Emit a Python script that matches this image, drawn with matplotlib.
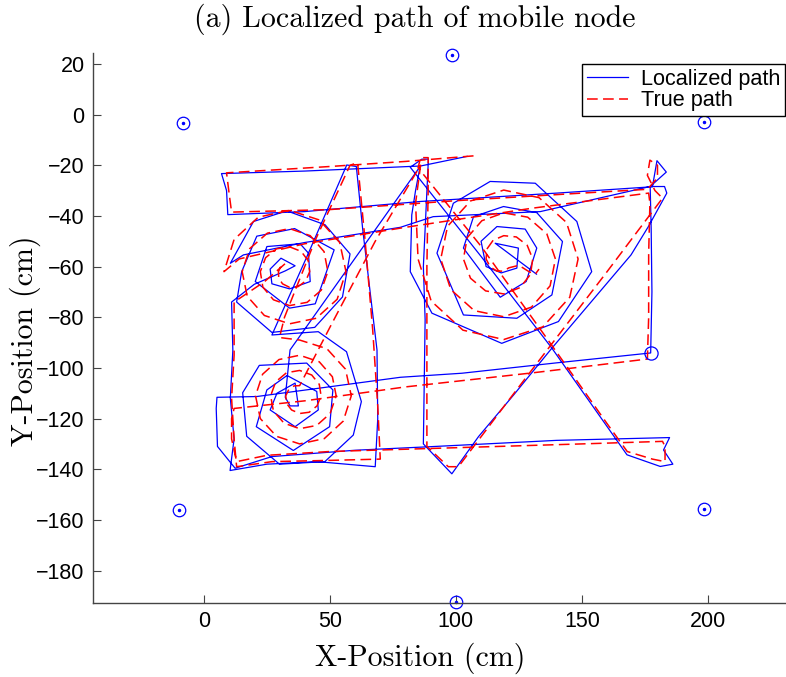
import matplotlib.pyplot as plt

plt.rcParams['font.family'] = ['Liberation Sans', 'DejaVu Sans']
plt.rcParams['axes.unicode_minus'] = True

# ---------------------------------------------------------------------------
# Anchor nodes and start position (cm)
# ---------------------------------------------------------------------------
ANCHOR_X = [-8.3, 98.5, 198.5, -9.7, 198.5, 100.1]
ANCHOR_Y = [-3.4, 23.6, -2.9, -156.2, -155.8, -192.6]
START_X, START_Y = 177.5, -94.1

# ---------------------------------------------------------------------------
# True path, leg by leg (cm)
# ---------------------------------------------------------------------------
true_top = [(107, -16.3), (80, -18.5), (50, -20.5), (25, -22), (9, -23), (10, -31), (11, -38.5)]
true_east = [(50, -37.5), (100, -34), (150, -31), (176, -29.5), (180, -25), (180, -20), (177, -18),
             (176, -24), (179, -30), (182, -33)]
true_diag_sw = [(160, -62), (140, -88), (120, -114), (101, -139), (97, -139), (88.5, -131)]
true_mid_north = [(88.5, -100), (88.5, -60), (89, -30), (89, -17), (86, -17), (85, -21)]
true_diag_se = [(110, -52), (138, -91), (160, -122), (168, -133), (178, -136), (183, -137),
                (183, -131), (182, -129)]
true_bottom_w = [(150, -130), (100, -131.5), (50, -133), (25, -134.5), (13, -137), (11, -128),
                 (11, -120), (12, -116)]
true_mid_e = [(40, -113), (80, -107.5), (130, -102), (176, -96.5)]
true_east_n = [(176.5, -80), (176.5, -55), (177, -35), (176.5, -31)]
true_slant_w = [(130, -37), (80, -44.5), (40, -51), (14, -57)]
true_spiral_a = [(8, -62), (12, -49.3), (21.6, -40.5), (34, -37.8), (45.8, -41.6), (53.9, -50.5),
                 (56.4, -62), (52.9, -72.9), (44.6, -80.4), (34, -82.6), (24, -79.3), (17.2, -71.7),
                 (15.2, -62), (18.2, -52.9), (25.2, -46.8), (34, -45), (42.2, -47.8), (47.7, -54.1),
                 (49.2, -62), (46.6, -69.3), (41, -74.1), (34, -75.4), (27.6, -73.1), (23.4, -68.1),
                 (22.4, -62), (24.5, -56.5), (28.8, -53), (34, -52.2), (38.6, -54), (41.4, -57.7),
                 (42, -62), (40.4, -65.7), (37.4, -67.9), (34, -68.2), (31.2, -66.8), (29.7, -64.5),
                 (29.6, -62), (30.5, -60), (32.2, -58.9)]
true_exit_a = [(24, -66), (12, -74), (12, -95), (11, -112), (12, -128), (13, -139)]
true_col = [(27, -137), (50, -136.5), (70, -136), (69, -115), (67, -85), (64, -50), (61, -19), (58, -20)]
true_cross = [(44, -50), (32, -80), (30, -88)]
true_spiral_c = [(38, -89), (48.8, -92.4), (56.2, -100.5), (58.5, -111), (55.3, -121), (47.8, -127.9),
                 (38, -130), (28.8, -127), (22.4, -120), (20.5, -111), (23.3, -102.5), (29.8, -96.7),
                 (38, -95), (45.8, -97.6), (51, -103.5), (52.5, -111), (50.1, -118), (44.8, -122.7),
                 (38, -124), (31.8, -121.8), (27.6, -117), (26.5, -111), (28.5, -105.5), (32.8, -101.9),
                 (38, -101), (42.8, -102.8), (45.8, -106.5), (46.5, -111), (44.9, -115), (41.8, -117.5),
                 (38, -118), (34.8, -116.6), (32.8, -114), (32.5, -111), (33.7, -108.5), (35.8, -107.1),
                 (38, -107)]
true_exit_c = [(50, -84), (68, -50), (86, -20), (84, -35)]
true_spiral_b = [(85, -57), (90.2, -73.6), (102.8, -85.1), (119, -88.8), (134.5, -83.8), (145.2, -72.1),
                 (148.5, -57), (143.9, -42.6), (133, -32.8), (119, -29.8), (105.8, -34.1), (96.7, -44.1),
                 (94, -57), (98, -69.1), (107.3, -77.4), (119, -79.8), (130, -76), (137.4, -67.6),
                 (139.5, -57), (136.1, -47.1), (128.5, -40.5), (119, -38.8), (110.3, -41.9), (104.5, -48.6),
                 (103, -57), (105.8, -64.6), (111.8, -69.6), (119, -70.8), (125.5, -68.3), (129.6, -63.1),
                 (130.5, -57), (128.3, -51.6), (124, -48.3), (119, -47.8), (114.8, -49.6), (112.3, -53.1),
                 (112, -57), (113.6, -60.1), (116.3, -61.8), (119, -61.8), (121, -60.5), (125, -59.5),
                 (129, -62), (131.5, -63), (133, -61)]

# ---------------------------------------------------------------------------
# Localized (estimated) path, leg by leg (cm)
# ---------------------------------------------------------------------------
est_top = [(104.5, -16.5), (86, -20.3), (40, -22.3), (7, -23.3), (9, -30), (9.5, -39.5)]
est_east = [(40, -38.3), (86, -34.3), (140, -31), (178, -28.5), (179.8, -18.2), (183.5, -22.7),
            (177.1, -28.4), (182.8, -28.4), (183.7, -31)]
est_diag_sw = [(176.4, -44.2), (169.5, -55.4), (138.1, -92.2), (122.9, -110.7), (109, -127.1),
               (98.4, -141.8), (87.1, -130)]
est_mid_north = [(87.8, -81), (87.1, -60), (89.1, -17.6), (86.5, -17.6), (81.9, -20.8)]
est_diag_se = [(110, -56), (138.1, -92.2), (167.9, -134.3), (181.1, -138.9), (186.1, -138),
               (182.4, -132.4), (184.8, -127.5)]
est_bottom_w = [(140, -128.6), (89.8, -131.1), (60, -132.5), (27, -135), (12.4, -139.6), (5.4, -131),
                (4.9, -116), (5.2, -111.6)]
est_mid_e = [(21, -111.3), (78, -103.7), (102.4, -102.1), (140, -98), (177.3, -94.1)]
est_east_n = [(177.8, -70), (177.5, -45), (177.1, -28.4)]
est_slant_w = [(133.5, -38.3), (91, -40.3), (78, -44.5), (40, -50.5), (15.7, -55.4)]
est_spiral_a = [(10.5, -58.7), (19.7, -42.2), (32.9, -38), (48.1, -43.5), (58, -55), (55, -72), (44, -84),
                (27, -86), (13, -74),
                (15, -62), (21, -48), (36, -45), (51.7, -53.4), (44.2, -74.7), (34, -76.4), (20.4, -65.9),
                (25, -52.1), (38.2, -51), (41.5, -54.7), (42.2, -65.9), (34, -68.8), (27, -66.8),
                (26.3, -61), (30.6, -56.7), (36.2, -59.7), (32.3, -61.7)]
est_exit_a = [(20, -67), (11, -74), (11.5, -93), (10.5, -112), (12, -128), (10.4, -140.5)]
est_col = [(25, -138), (45, -137), (68, -139), (69, -120), (68.7, -92.9), (63, -45), (60.5, -20.5),
           (56.7, -19.9)]
est_cross = [(41.5, -54.7), (27, -87)]
est_spiral_c = [(45.4, -85.7), (56.6, -93.6), (62.5, -113.3), (59.3, -126.5), (48, -137), (30, -138),
                (17, -127), (15.4, -109.8),
                (22, -99), (40.8, -98.1), (51.2, -108.7), (49.9, -123.2), (35.5, -132.6), (20.8, -123.2),
                (25, -108.7),
                (33, -103), (44.8, -109.3), (45.4, -116.6), (36.2, -123.2), (26.3, -116.6), (29, -110),
                (36.2, -106), (37.5, -115), (34.2, -115), (32.3, -111.6)]
est_exit_c = [(34.2, -92.9), (85.8, -20.5), (84, -30), (82.5, -39.6)]
est_spiral_b = [(81.9, -62), (90.5, -78.4), (118.2, -90.3), (140.7, -81.7), (153.9, -62), (148, -42.2),
                (131.5, -27.1), (113.6, -26.4), (99, -35),
                (92.5, -54.7), (103, -79.1), (124.2, -80.4), (138.1, -71.2), (142.3, -50.1), (132.1, -38.7),
                (118.9, -36.3), (107, -40.3),
                (103, -52.7), (117.6, -72.1), (127.9, -65.9), (132.1, -52.7), (127.5, -45.2), (116.3, -44.2),
                (110, -50), (112, -60), (118, -62.5), (124.2, -60.6), (124.8, -52.7), (115.6, -50.8),
                (132, -63)]

true_path = (true_top + true_east + true_diag_sw + true_mid_north + true_diag_se + true_bottom_w
             + true_mid_e + true_east_n + true_slant_w + true_spiral_a + true_exit_a + true_col
             + true_cross + true_spiral_c + true_exit_c + true_spiral_b)
est_path = (est_top + est_east + est_diag_sw + est_mid_north + est_diag_se + est_bottom_w
            + est_mid_e + est_east_n + est_slant_w + est_spiral_a + est_exit_a + est_col
            + est_cross + est_spiral_c + est_exit_c + est_spiral_b)

tx, ty = zip(*true_path)
ex, ey = zip(*est_path)

# ---------------------------------------------------------------------------
# Figure
# ---------------------------------------------------------------------------
fig = plt.figure(figsize=(7.86, 6.77), dpi=100)
ax = fig.add_axes([0.1183, 0.1093, 0.8817, 0.8124])

(l_est,) = ax.plot(ex, ey, color='#0000ff', lw=0.9)
(l_true,) = ax.plot(tx, ty, color='#ff0000', lw=1.1, dashes=(7, 3.5))

ax.plot(ANCHOR_X, ANCHOR_Y, 'o', mfc='none', mec='#0000ff', ms=9, mew=0.9, clip_on=False)
ax.plot(ANCHOR_X, ANCHOR_Y, '.', color='#0000ff', ms=3, clip_on=False)
ax.plot([START_X], [START_Y], 'o', mfc='none', mec='#0000ff', ms=9.5, mew=0.9)

ax.set_xlim(-44, 231)
ax.set_ylim(-192.8, 24.3)
ax.set_xticks([0, 50, 100, 150, 200])
ax.set_yticks(range(20, -181, -20))

for side in ('top', 'right'):
    ax.spines[side].set_visible(False)
for side in ('left', 'bottom'):
    ax.spines[side].set_color('#444444')
    ax.spines[side].set_linewidth(1.0)
ax.tick_params(direction='in', length=6, width=0.8, color='#444444', labelsize=15.5, pad=6)

# title and axis labels in Computer Modern
fig.text(415 / 786, 1 - 19 / 677, '(a) Localized path of mobile node', fontfamily='cmr10',
         fontsize=21.5, ha='center', va='center')
fig.text(420 / 786, 1 - 658 / 677, 'X-Position (cm)', fontfamily='cmr10',
         fontsize=21.5, ha='center', va='center')
fig.text(25 / 786, 1 - 341 / 677, 'Y-Position (cm)', fontfamily='cmr10',
         fontsize=21.5, ha='center', va='center', rotation=90)

leg = fig.legend([l_est, l_true], ['Localized path', 'True path'],
                 loc='upper left', bbox_to_anchor=(0.7405, 0.9055),
                 fontsize=15.6, frameon=True, fancybox=False, edgecolor='black',
                 framealpha=1, borderpad=0.22, labelspacing=0.02,
                 handlelength=1.9, handletextpad=0.6, borderaxespad=0)
leg.get_frame().set_linewidth(1.0)

fig.savefig('out.png', dpi=100)
